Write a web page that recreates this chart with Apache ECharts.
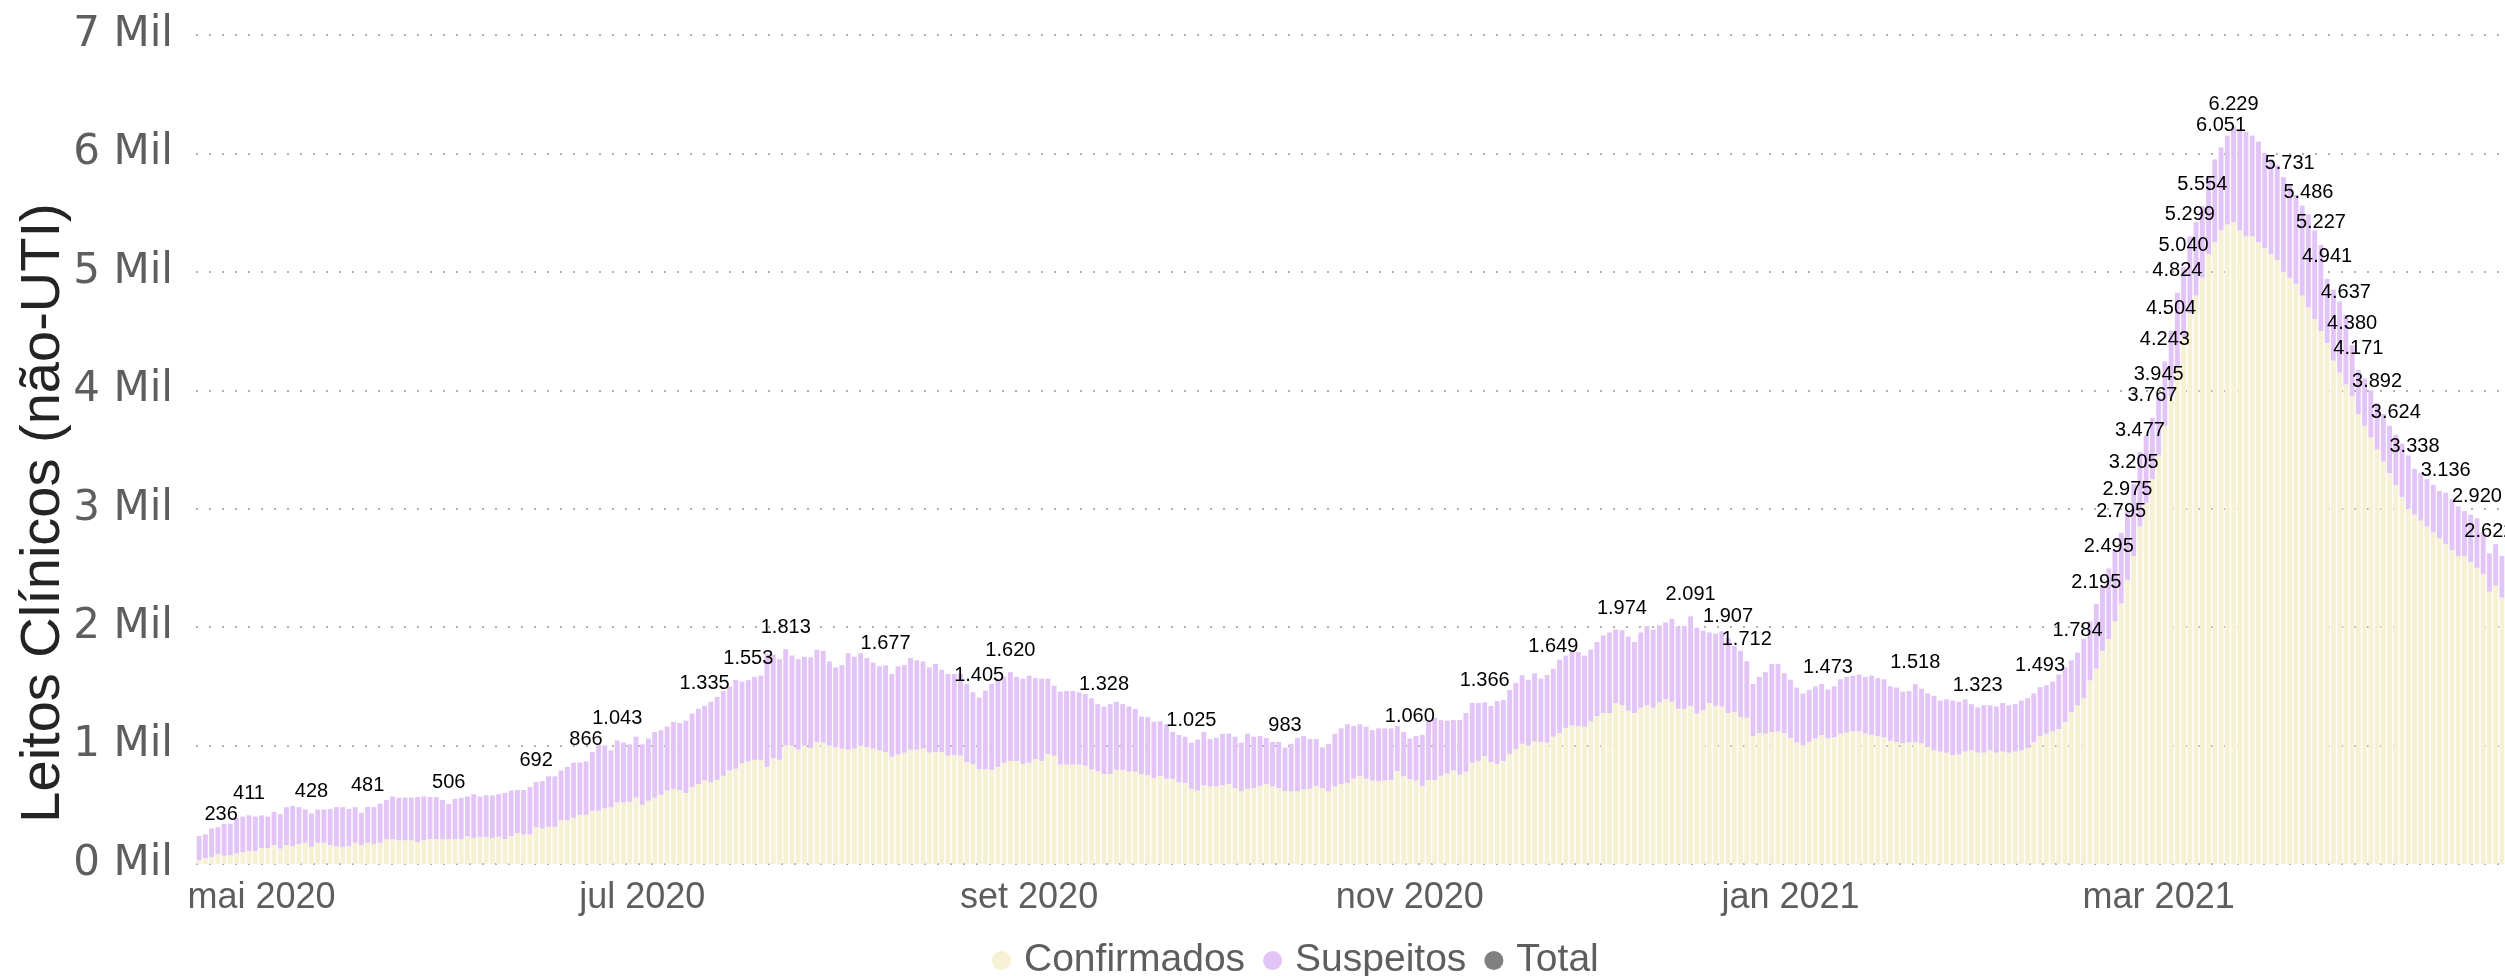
<!DOCTYPE html>
<html>
<head>
<meta charset="utf-8">
<script src="https://cdn.jsdelivr.net/npm/echarts@6/dist/echarts.min.js"></script>
<style>
  html, body { margin: 0; padding: 0; background: #fff; }
  #chart { width: 2505px; height: 976px; }
</style>
</head>
<body>
<div id="chart"></div>
<script>
// first day shown, one bar per day
const startDate = [2020, 3, 21]
const monthNames = ['jan', 'fev', 'mar', 'abr', 'mai', 'jun', 'jul', 'ago', 'set', 'out', 'nov', 'dez']

// leitos ocupados por dia (total = confirmados + suspeitos)
const total = [
  236, 250, 300, 310, 340, 340, 390, 400, 411, 400, 410, 400, 440, 420, 480, 490, 480, 460, 428, 460,
  460, 465, 480, 480, 465, 480, 430, 481, 480, 510, 540, 570, 560, 560, 560, 565, 570, 565, 565, 540,
  506, 550, 560, 570, 590, 570, 580, 580, 590, 600, 620, 625, 625, 650, 692, 700, 740, 740, 790, 820,
  856, 856, 866, 945, 1000, 1000, 960, 1043, 1025, 1010, 1075, 1010, 1060, 1115, 1130, 1160, 1200, 1190, 1210, 1270,
  1310, 1335, 1370, 1410, 1460, 1500, 1555, 1540, 1553, 1580, 1590, 1775, 1770, 1730, 1813, 1760, 1730, 1750, 1745, 1810,
  1800, 1710, 1660, 1680, 1780, 1750, 1780, 1740, 1700, 1670, 1677, 1605, 1670, 1680, 1740, 1720, 1710, 1660, 1690, 1640,
  1605, 1605, 1605, 1520, 1450, 1405, 1465, 1520, 1550, 1580, 1620, 1580, 1565, 1590, 1570, 1565, 1565, 1505, 1455, 1460,
  1460, 1450, 1435, 1400, 1350, 1328, 1350, 1370, 1350, 1330, 1310, 1245, 1240, 1200, 1205, 1180, 1115, 1090, 1075, 1025,
  1050, 1115, 1055, 1065, 1100, 1100, 1075, 1025, 1100, 1075, 1080, 1065, 1030, 1030, 983, 1015, 1065, 1080, 1055, 1055,
  985, 1015, 1100, 1145, 1180, 1165, 1180, 1160, 1130, 1145, 1145, 1145, 1165, 1115, 1060, 1080, 1090, 1200, 1235, 1215,
  1210, 1215, 1215, 1275, 1360, 1360, 1366, 1335, 1375, 1385, 1470, 1530, 1595, 1555, 1610, 1565, 1595, 1649, 1725, 1760,
  1790, 1790, 1760, 1810, 1875, 1930, 1955, 1980, 1974, 1920, 1875, 1955, 2010, 1980, 2015, 2040, 2070, 2005, 2010, 2091,
  1995, 1970, 1955, 1945, 1965, 1907, 1840, 1800, 1712, 1520, 1580, 1620, 1690, 1690, 1610, 1555, 1490, 1440, 1470, 1500,
  1520, 1473, 1500, 1560, 1580, 1590, 1600, 1580, 1590, 1570, 1560, 1500, 1490, 1455, 1460, 1518, 1480, 1440, 1420, 1380,
  1390, 1380, 1370, 1390, 1350, 1323, 1340, 1340, 1330, 1360, 1340, 1350, 1380, 1400, 1440, 1493, 1510, 1540, 1600, 1660,
  1720, 1784, 1900, 2050, 2195, 2350, 2495, 2650, 2795, 2975, 3205, 3477, 3620, 3767, 3945, 4243, 4504, 4824, 5040, 5299,
  5420, 5554, 5800, 5950, 6051, 6150, 6229, 6200, 6180, 6150, 6100, 6000, 5950, 5900, 5800, 5731, 5650, 5560, 5486, 5350,
  5227, 4941, 4850, 4750, 4637, 4380, 4171, 4100, 4000, 3892, 3800, 3700, 3624, 3550, 3450, 3338, 3300, 3250, 3200, 3150,
  3136, 3080, 3020, 2980, 2950, 2920, 2800, 2622, 2700, 2600
]

const confirmados = [
  34, 50, 60, 85, 70, 75, 90, 100, 110, 110, 135, 135, 160, 130, 160, 150, 170, 180, 145, 180,
  180, 160, 150, 145, 150, 180, 160, 180, 170, 180, 210, 210, 200, 200, 200, 185, 200, 210, 210, 210,
  210, 210, 210, 235, 220, 230, 230, 220, 230, 210, 235, 260, 250, 250, 310, 300, 315, 315, 370, 370,
  390, 415, 415, 450, 450, 470, 480, 520, 520, 525, 560, 500, 535, 560, 585, 620, 635, 625, 600, 650,
  675, 705, 690, 710, 745, 790, 805, 850, 865, 880, 880, 820, 895, 880, 1000, 1000, 965, 1000, 980, 1030,
  1025, 1000, 985, 975, 965, 975, 1000, 985, 975, 960, 945, 905, 925, 940, 965, 965, 975, 940, 945, 945,
  915, 920, 915, 860, 845, 800, 800, 795, 820, 855, 870, 870, 845, 855, 885, 870, 930, 915, 840, 840,
  840, 840, 830, 800, 785, 760, 760, 795, 795, 780, 780, 760, 750, 725, 745, 720, 720, 690, 685, 635,
  620, 665, 655, 655, 665, 675, 640, 615, 635, 640, 660, 675, 655, 640, 615, 615, 615, 630, 635, 660,
  640, 615, 655, 675, 685, 720, 745, 720, 705, 700, 705, 710, 785, 740, 715, 705, 660, 710, 710, 745,
  765, 790, 755, 780, 855, 870, 910, 860, 845, 870, 930, 970, 1015, 1000, 1035, 1030, 1025, 1075, 1105, 1150,
  1170, 1165, 1160, 1205, 1250, 1275, 1275, 1360, 1340, 1295, 1275, 1320, 1340, 1320, 1365, 1390, 1370, 1310, 1310, 1335,
  1270, 1300, 1360, 1335, 1330, 1275, 1285, 1240, 1235, 1080, 1105, 1100, 1115, 1120, 1105, 1065, 1025, 1000, 1030, 1060,
  1090, 1060, 1070, 1100, 1110, 1120, 1120, 1100, 1090, 1080, 1070, 1040, 1030, 1020, 1030, 1030, 1020, 990, 960, 950,
  940, 920, 925, 950, 960, 940, 940, 960, 940, 950, 940, 950, 960, 980, 1030, 1080, 1100, 1120, 1140, 1200,
  1280, 1340, 1400, 1550, 1650, 1800, 1900, 2050, 2200, 2400, 2600, 2850, 3050, 3250, 3450, 3700, 3950, 4200, 4450, 4650,
  4800, 4950, 5150, 5250, 5350, 5400, 5420, 5350, 5300, 5300, 5250, 5200, 5150, 5100, 5000, 4950, 4900, 4800, 4700, 4600,
  4500, 4400, 4250, 4150, 4050, 3950, 3800, 3700, 3600, 3500, 3400, 3300, 3200, 3100, 3000, 2950, 2900, 2850, 2800, 2750,
  2700, 2650, 2600, 2600, 2550, 2500, 2450, 2300, 2350, 2250
]

// dias com rótulo do total
const labelIdx = [
  0, 8, 18, 27, 40, 54, 62, 67, 81, 88, 94, 110, 125, 130, 145, 159, 174, 194, 206, 217,
  228, 239, 245, 248, 261, 275, 285, 295, 301, 304, 306, 308, 309, 310, 311, 313, 314, 315, 316, 317,
  318, 319, 321, 324, 326, 335, 338, 340, 341, 344, 345, 346, 349, 352, 355, 360, 365, 367
]

const suspeitos = total.map((t, i) => t - confirmados[i])

const days = total.map((_, i) => new Date(startDate[0], startDate[1], startDate[2] + i))
const categories = days.map(d => d.getFullYear() + '-' + (d.getMonth() + 1) + '-' + d.getDate())

function fmtNum(n) {
  if (n < 1000) return String(n)
  return Math.floor(n / 1000) + '.' + String(n % 1000).padStart(3, '0')
}

const chart = echarts.init(document.getElementById('chart'))

const font = '"Liberation Sans", Arial, sans-serif'

chart.setOption({
  animation: false,
  textStyle: { fontFamily: font },
  grid: { left: 196, right: 0, top: 35, bottom: 112 },
  graphic: [{
    type: 'text',
    x: 44,
    y: 513,
    rotation: Math.PI / 2,
    style: {
      text: 'Leitos Clínicos (não-UTI)',
      font: '56px "Liberation Sans", Arial, sans-serif',
      fill: '#252423',
      align: 'center',
      verticalAlign: 'middle'
    }
  }],
  legend: {
    left: 987,
    top: 936,
    icon: 'circle',
    itemWidth: 19,
    itemHeight: 19,
    itemGap: 18,
    textStyle: { fontSize: 39, color: '#605E5C', fontFamily: font, padding: [0, 0, 0, 8] },
    data: ['Confirmados', 'Suspeitos', 'Total']
  },
  xAxis: {
    type: 'category',
    data: categories,
    axisLine: { show: false },
    axisTick: { show: false },
    axisLabel: {
      interval: (idx) => days[idx].getDate() === 1 && days[idx].getMonth() % 2 === 0,
      formatter: (v, idx) => monthNames[days[idx].getMonth()] + ' ' + days[idx].getFullYear(),
      fontSize: 36,
      color: '#605E5C',
      margin: 16
    }
  },
  yAxis: {
    type: 'value',
    min: 0,
    max: 7000,
    interval: 1000,
    axisLine: { show: false },
    axisTick: { show: false },
    axisLabel: {
      formatter: v => (v / 1000) + ' Mil',
      fontSize: 42,
      fontFamily: '"DejaVu Sans", sans-serif',
      color: '#605E5C',
      margin: 23
    },
    splitLine: {
      lineStyle: { type: [2, 11], width: 2, color: '#B3B0AD' }
    }
  },
  series: [
    {
      name: 'Confirmados',
      type: 'bar',
      stack: 'leitos',
      barCategoryGap: '22%',
      itemStyle: { color: '#F6F1D4' },
      data: confirmados
    },
    {
      name: 'Suspeitos',
      type: 'bar',
      stack: 'leitos',
      itemStyle: { color: '#E2C4F6' },
      label: {
        show: true,
        position: 'top',
        distance: 12,
        fontSize: 20,
        color: '#000',
        formatter: p => labelIdx.includes(p.dataIndex) ? fmtNum(total[p.dataIndex]) : ''
      },
      // the first label is pushed inside the plot, as in the original
      data: suspeitos.map((v, i) => i === 0 ? { value: v, label: { offset: [22, 0] } } : v)
    },
    {
      name: 'Total',
      type: 'line',
      symbol: 'none',
      itemStyle: { color: '#808080' },
      lineStyle: { opacity: 0 },
      data: total
    }
  ]
})
</script>
</body>
</html>
